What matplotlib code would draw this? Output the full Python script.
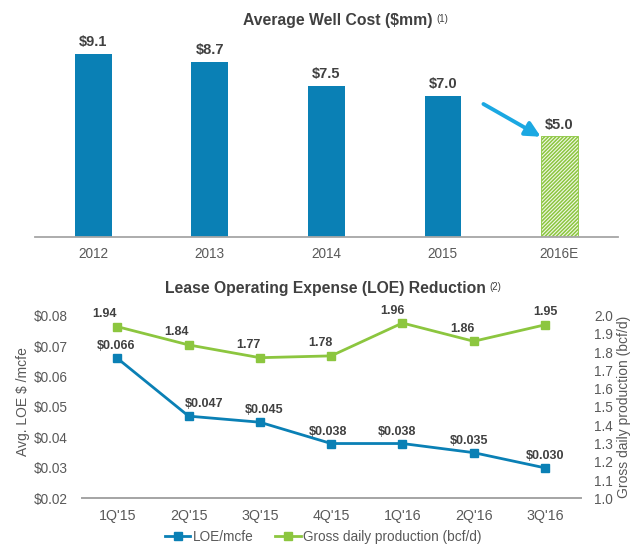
import matplotlib
matplotlib.use("Agg")
import matplotlib.pyplot as plt
from matplotlib.lines import Line2D

plt.rcParams['font.family'] = ['Liberation Sans', 'DejaVu Sans']
plt.rcParams['hatch.linewidth'] = 1.1

# ---- data ----
years = ["2012", "2013", "2014", "2015", "2016E"]
well_cost = [9.1, 8.7, 7.5, 7.0, 5.0]

quarters = ["1Q'15", "2Q'15", "3Q'15", "4Q'15", "1Q'16", "2Q'16", "3Q'16"]
loe = [0.066, 0.047, 0.045, 0.038, 0.038, 0.035, 0.030]
gross = [1.94, 1.84, 1.77, 1.78, 1.96, 1.86, 1.95]
left_ticks = [0.02, 0.03, 0.04, 0.05, 0.06, 0.07, 0.08]
right_ticks = [1.0, 1.1, 1.2, 1.3, 1.4, 1.5, 1.6, 1.7, 1.8, 1.9, 2.0]

# label nudges (points) — styling only
loe_dx = [-1, 11, 3, -2, -4, -3, 0]
gross_dx = [-9, -9, -8, -8, -7, -8, 0]

BLUE = '#0A80B5'
GREEN = '#8CC63F'
ARROW = '#1BA8E2'
TXT = '#404040'
TICK = '#595959'
AXC = '#A6A6A6'

W, H = 640, 553
fig = plt.figure(figsize=(W / 100, H / 100), dpi=100)
renderer = fig.canvas.get_renderer()

def box(l, r, top, bot):
    return [l / W, 1 - bot / H, (r - l) / W, (bot - top) / H]

def title_with_sup(cx, cy, title, sup):
    t = fig.text(cx / W, 1 - cy / H, title, ha='center', va='center',
                 fontsize=11.3, fontweight='bold', color=TXT)
    bb = t.get_window_extent(renderer)
    fig.text((bb.x1 + 4) / W, (bb.y1 - 1) / H, sup, ha='left', va='top',
             fontsize=7, color=TXT)

# ---- top chart ----
ax1 = fig.add_axes(box(35, 617.7, 40, 237.3))
xs = list(range(len(years)))
for i, (x, v) in enumerate(zip(xs, well_cost)):
    if i < len(years) - 1:
        ax1.bar(x, v, width=0.315, color=BLUE, linewidth=0)
    else:
        ax1.bar(x, v, width=0.315, facecolor='#F2F8E8', edgecolor=GREEN,
                hatch='/' * 9, linewidth=0.6)
    ax1.text(x, v + 0.22, f"${v:.1f}", ha='center', va='bottom',
             fontsize=10.5, fontweight='bold', color=TXT)
ax1.set_xlim(-0.5, 4.5)
ax1.set_ylim(0, 9.77)
ax1.set_xticks(xs)
ax1.set_xticklabels(years, fontsize=9.8, color=TICK)
ax1.tick_params(axis='x', length=0, pad=7)
ax1.set_yticks([])
for s in ['left', 'right', 'top']:
    ax1.spines[s].set_visible(False)
ax1.spines['bottom'].set_color(AXC)
ax1.spines['bottom'].set_linewidth(1.3)
ax1.annotate('', xy=(3.84, 4.98), xytext=(3.348, 6.6),
             arrowprops=dict(arrowstyle='-|>,head_length=0.9,head_width=0.45',
                             color=ARROW, lw=2.8, shrinkA=0, shrinkB=0))
title_with_sup(338, 20.7, "Average Well Cost ($mm)", "(1)")

# ---- bottom chart ----
ax2 = fig.add_axes(box(81.7, 580.6, 315.7, 498.3))
qx = list(range(len(quarters)))
ax3 = ax2.twinx()
ax2.plot(qx, loe, color=BLUE, lw=2.0, marker='s', ms=5.8, zorder=3)
ax3.plot(qx, gross, color=GREEN, lw=2.0, marker='s', ms=5.8, zorder=3)
for x, v, dx in zip(qx, loe, loe_dx):
    ax2.annotate(f"${v:.3f}", (x, v), xytext=(dx, 8.6), textcoords='offset points',
                 ha='center', va='center', fontsize=9, fontweight='bold',
                 color=TXT, annotation_clip=False)
for x, v, dx in zip(qx, gross, gross_dx):
    ax3.annotate(f"{v:.2f}", (x, v), xytext=(dx, 9), textcoords='offset points',
                 ha='center', va='center', fontsize=9, fontweight='bold',
                 color=TXT, annotation_clip=False)
ax2.set_xlim(-0.5, 6.5)
ax2.set_ylim(0.02, 0.08)
ax3.set_ylim(1.0, 2.0)
ax2.set_xticks(qx)
ax2.set_xticklabels(quarters, fontsize=10.3, color=TICK)
ax2.set_yticks(left_ticks)
ax2.set_yticklabels([f"${t:.2f}" for t in left_ticks], fontsize=9.8, color=TICK)
ax3.set_yticks(right_ticks)
ax3.set_yticklabels([f"{t:.1f}" for t in right_ticks], fontsize=9.8, color=TICK)
ax2.tick_params(axis='both', length=0)
ax2.tick_params(axis='x', pad=8)
ax2.tick_params(axis='y', pad=10)
ax3.tick_params(axis='y', length=0, pad=10)
for a in (ax2, ax3):
    for s in ['left', 'right', 'top']:
        a.spines[s].set_visible(False)
    a.spines['bottom'].set_color(AXC)
    a.spines['bottom'].set_linewidth(1.3)
ax2.set_ylabel("Avg. LOE $ /mcfe", fontsize=10, color=TICK)
ax3.set_ylabel("Gross daily production (bcf/d)", fontsize=10, color=TICK, rotation=90)
ax2.yaxis.set_label_coords(-0.1177, 0.529)
ax3.yaxis.set_label_coords(1.087, 0.5)
ax2.yaxis.label.set_verticalalignment('center')
ax3.yaxis.label.set_verticalalignment('center')

title_with_sup(325, 288, "Lease Operating Expense (LOE) Reduction", "(2)")

handles = [Line2D([], [], color=BLUE, lw=2.0, marker='s', ms=5.8),
           Line2D([], [], color=GREEN, lw=2.0, marker='s', ms=5.8)]
fig.legend(handles, ["LOE/mcfe", "Gross daily production (bcf/d)"],
           loc='center', bbox_to_anchor=(323 / W, 1 - 536.7 / H), ncol=2, frameon=False,
           fontsize=9.8, labelcolor=TICK, handlelength=1.9, handletextpad=0.15,
           columnspacing=1.6)

fig.savefig("out.png", dpi=100)
